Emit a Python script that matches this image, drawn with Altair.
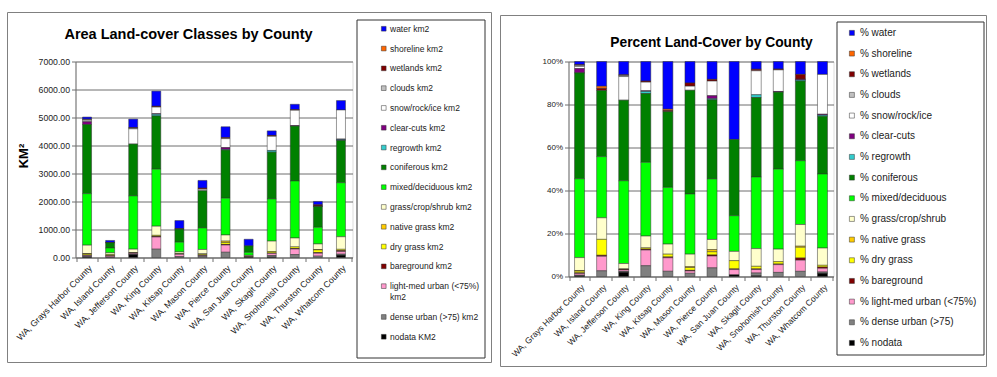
import altair as alt
import pandas as pd

counties = ["WA, Grays Harbor County", "WA, Island County", "WA, Jefferson County",
            "WA, King County", "WA, Kitsap County", "WA, Mason County",
            "WA, Pierce County", "WA, San Juan County", "WA, Skagit County",
            "WA, Snohomish County", "WA, Thurston County", "WA, Whatcom County"]

# legend order (top of the stack first)
km_labels = ["water km2", "shoreline km2", "wetlands km2", "clouds km2", "snow/rock/ice km2",
             "clear-cuts km2", "regrowth km2", "coniferous km2", "mixed/deciduous km2",
             "grass/crop/shrub km2", "native grass km2", "dry grass km2", "bareground km2",
             "light-med urban (<75%) km2", "dense urban (>75) km2", "nodata KM2"]
pct_labels = ["% water", "% shoreline", "% wetlands", "% clouds", "% snow/rock/ice",
              "% clear-cuts", "% regrowth", "% coniferous", "% mixed/deciduous",
              "% grass/crop/shrub", "% native grass", "% dry grass", "% bareground",
              "% light-med urban (<75%)", "% dense urban (>75)", "% nodata"]
colors = ["#0000FF", "#FF6600", "#800000", "#C0C0C0", "#FFFFFF", "#800080", "#33CCCC",
          "#008000", "#00FF00", "#FFFFCC", "#FFCC00", "#FFFF00", "#800000", "#FF99CC",
          "#808080", "#000000"]

left_title = "Area Land-cover Classes by County"
right_title = "Percent Land-Cover by County"

# km2 per class, one value per county (order of `counties`)
water      = [75, 70, 306, 541, 293, 275, 388, 236, 163, 192, 120, 337]
shoreline  = [0, 6, 0, 0, 8, 0, 0, 0, 0, 0, 0, 0]
wetlands   = [15, 6, 15, 30, 7, 41, 37, 0, 32, 22, 44, 0]
clouds     = [25, 0, 25, 0, 0, 0, 0, 0, 0, 0, 0, 0]
snow       = [50, 0, 543, 238, 0, 52, 318, 0, 504, 549, 0, 1038]
clearcuts  = [100, 0, 0, 18, 0, 0, 66, 0, 0, 16, 8, 22]
regrowth   = [0, 0, 0, 59, 0, 0, 23, 0, 59, 0, 10, 28]
coniferous = [2470, 187, 1852, 1901, 465, 1328, 1718, 231, 1671, 1960, 742, 1509]
mixed      = [1840, 173, 1902, 2037, 348, 770, 1315, 108, 1507, 2037, 594, 1930]
grass      = [300, 61, 124, 327, 62, 160, 220, 28, 372, 318, 202, 449]
native     = [15, 0, 0, 0, 0, 11, 47, 0, 0, 0, 10, 0]
dry        = [40, 45, 10, 36, 17, 36, 70, 25, 54, 60, 100, 45]
bare       = [15, 3, 15, 24, 5, 8, 23, 2, 14, 16, 20, 34]
lightmed   = [40, 41, 35, 434, 83, 30, 257, 16, 73, 198, 104, 95]
dense      = [15, 16, 15, 297, 32, 41, 187, 0, 59, 104, 48, 34]
nodata     = [15, 0, 99, 0, 0, 0, 0, 5, 14, 0, 0, 84]

series = [water, shoreline, wetlands, clouds, snow, clearcuts, regrowth, coniferous,
          mixed, grass, native, dry, bare, lightmed, dense, nodata]

rows = []
for i, vals in enumerate(series):
    for c, v in zip(counties, vals):
        rows.append({"county": c, "km2": v, "km_label": km_labels[i],
                     "pct_label": pct_labels[i], "stack_order": len(series) - i})
df = pd.DataFrame(rows)

FONT = "Liberation Sans"
GRID = "#6e6e6e"
TXT = "#222222"


def frame(x1, x2, y1, y2):
    return alt.Chart(alt.Data(values=[{}])).mark_rect(
        fill="white", fillOpacity=0, stroke="#808080", strokeWidth=1
    ).encode(x=alt.value(x1), x2=alt.value(x2), y=alt.value(y1), y2=alt.value(y2))


def heading(text, x, y, size):
    return alt.Chart(alt.Data(values=[{}])).mark_text(
        font=FONT, fontSize=size, fontWeight="bold", color="#000000",
        align="center", baseline="middle"
    ).encode(x=alt.value(x), y=alt.value(y), text=alt.value(text))


def x_axis(size):
    return alt.Axis(labelAngle=-45, labelFontSize=size, labelColor=TXT, labelFont=FONT,
                    title=None, tickBand="extent", tickSize=4, tickColor=GRID,
                    domainColor=GRID, labelPadding=2, labelLimit=300, grid=False)


# ---------- left chart ----------
left_bars = alt.Chart(df).transform_filter("datum.km2 > 0").mark_bar(
    size=9, stroke="#333333", strokeWidth=0.5
).encode(
    x=alt.X("county:N", sort=counties, axis=x_axis(8.8)),
    y=alt.Y("km2:Q", stack="zero", scale=alt.Scale(domain=[0, 7000], nice=False),
            axis=alt.Axis(values=list(range(0, 7001, 1000)), format=".2f", labelFontSize=8.7,
                          labelColor=TXT, labelFont=FONT, tickSize=4, tickColor=GRID,
                          domainColor=GRID, gridColor=GRID, labelPadding=2,
                          title="KM²", titleFontSize=13, titleFont=FONT,
                          titleFontWeight="bold", titleColor="#000000",
                          titleX=-52, titleY=94, titleAlign="center",
                          titleBaseline="middle", titleAngle=270)),
    color=alt.Color("km_label:N", scale=alt.Scale(domain=km_labels, range=colors),
                    legend=alt.Legend(
                        orient="none", legendX=281, legendY=-42, title=" ",
                        titleOrient="bottom", titleFontSize=6, titlePadding=5,
                        padding=5, strokeColor="#333333", fillColor="white",
                        symbolType="square", symbolSize=22, symbolStrokeColor="#333333",
                        symbolStrokeWidth=0.5, symbolOpacity=1, labelFontSize=8.5,
                        labelFont=FONT, labelColor=TXT, rowPadding=10.8,
                        symbolOffset=18, labelOffset=2, labelLimit=300,
                        labelExpr="datum.label == 'light-med urban (<75%) km2' ? ['light-med urban (<75%)', 'km2'] : datum.label")),
    order=alt.Order("stack_order:Q", sort="ascending"),
)

left = alt.layer(
    frame(-68, 416, -49, 301),
    heading(left_title, 113, -27, 14.5),
    left_bars,
).properties(width=277, height=196)

# ---------- right chart ----------
right_bars = alt.Chart(df).transform_filter("datum.km2 > 0").mark_bar(
    size=10, stroke="#333333", strokeWidth=0.5
).encode(
    x=alt.X("county:N", sort=counties, axis=x_axis(8.5)),
    y=alt.Y("km2:Q", stack="normalize", scale=alt.Scale(domain=[0, 1], nice=False),
            axis=alt.Axis(values=[0, 0.2, 0.4, 0.6, 0.8, 1.0], format=".0%",
                          labelFontSize=8, labelColor=TXT, labelFont=FONT, tickSize=4,
                          tickColor=GRID, domainColor=GRID, gridColor=GRID,
                          labelPadding=2, title=None)),
    color=alt.Color("pct_label:N", scale=alt.Scale(domain=pct_labels, range=colors),
                    legend=alt.Legend(
                        orient="none", legendX=268, legendY=-40, title=None,
                        padding=6.4, strokeColor="#333333", fillColor="white",
                        symbolType="square", symbolSize=25, symbolStrokeColor="#333333",
                        symbolStrokeWidth=0.5, symbolOpacity=1, labelFontSize=10,
                        labelFont=FONT, labelColor=TXT, rowPadding=10.67,
                        symbolOffset=4, labelOffset=3, labelLimit=300)),
    order=alt.Order("stack_order:Q", sort="ascending"),
)

right = alt.layer(
    frame(-68, 418, -46, 305),
    heading(right_title, 143, -19, 13.8),
    right_bars,
).properties(width=265, height=215)

chart = alt.hconcat(left, right, spacing=7).resolve_scale(
    color="independent", x="independent", y="independent"
).properties(
    padding={"left": 6.5, "top": 11.5, "right": 5, "bottom": 5},
    background="white",
).configure_view(
    fill="#C0C0C0", stroke=None
).configure(font=FONT)

chart.save("out.html", embed_options={"renderer": "svg", "actions": False})
